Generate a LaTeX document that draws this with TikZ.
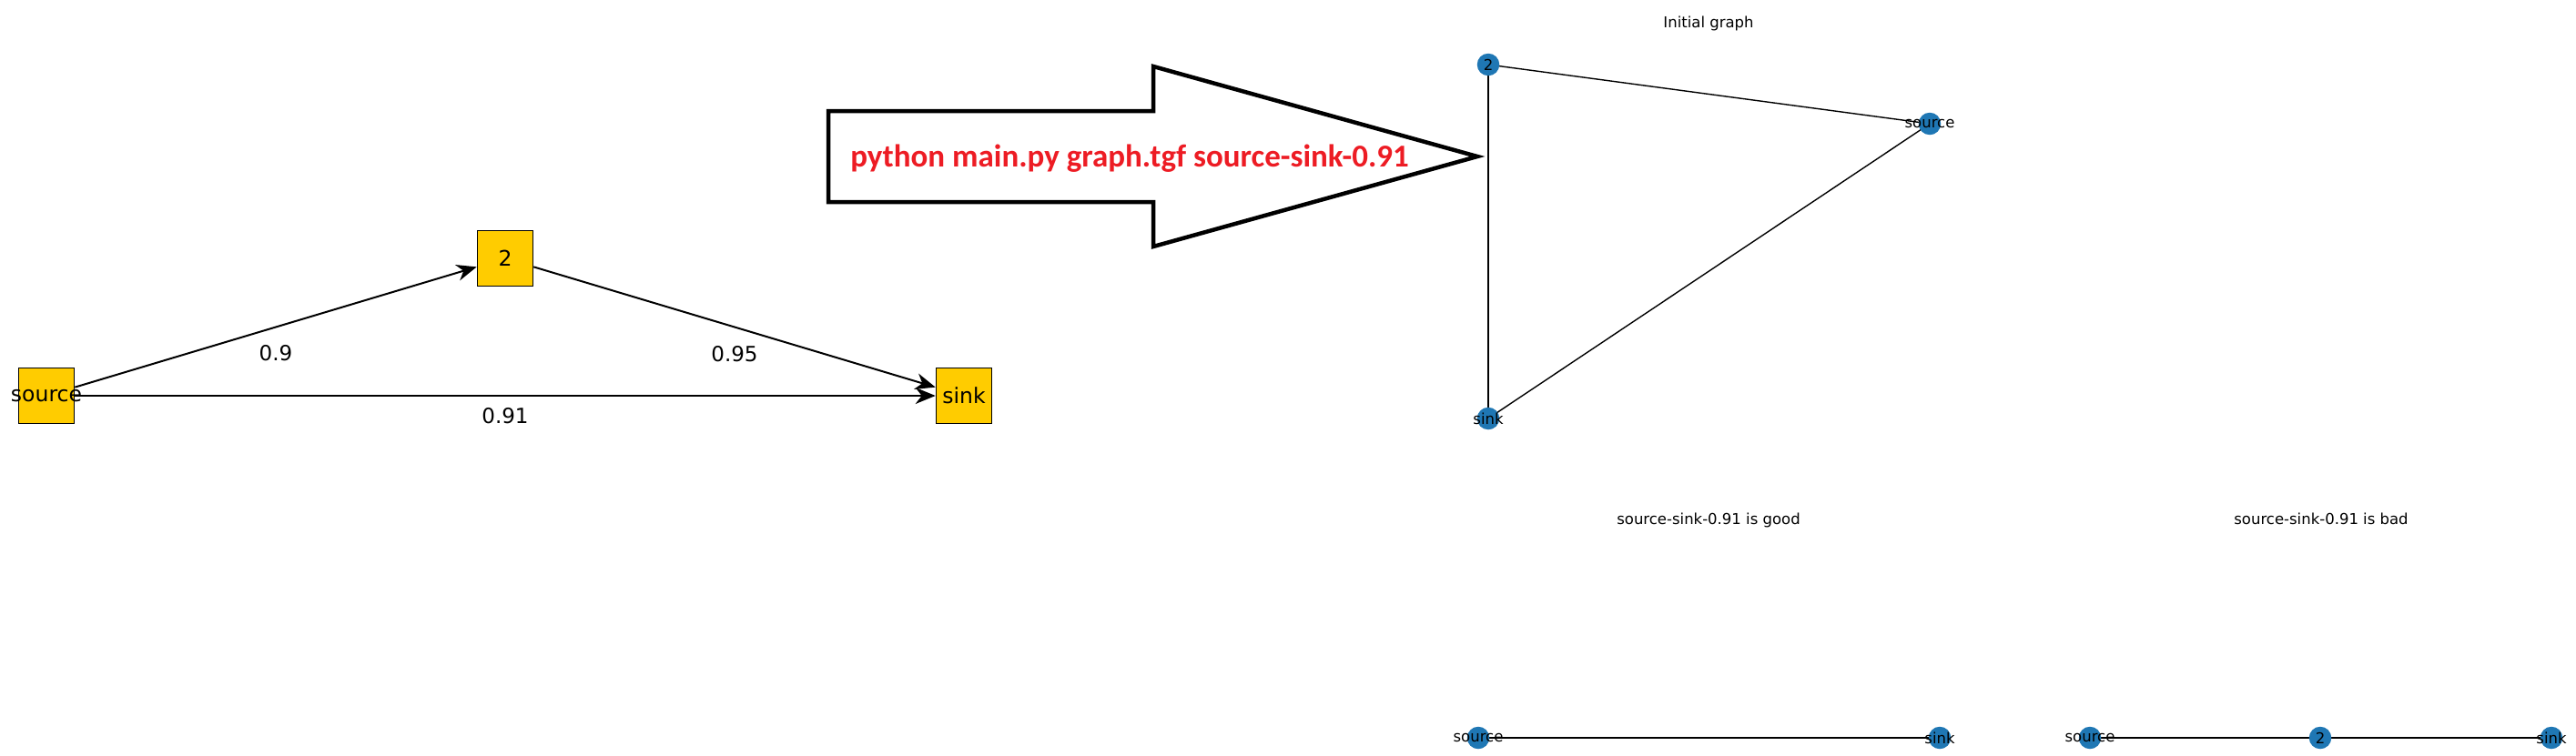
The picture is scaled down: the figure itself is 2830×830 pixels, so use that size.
\documentclass[tikz,border=0pt]{standalone}
\usepackage{fontspec}
\setmainfont{DejaVu Sans}
\newfontfamily\cmdfont{Carlito}
\usepackage{xcolor}
\usepackage{tikz}
\usetikzlibrary{arrows.meta,backgrounds}
\definecolor{boxyellow}{HTML}{FFCC00}
\definecolor{nxblue}{HTML}{1F77B4}
\definecolor{cmdred}{RGB}{237,28,36}

\begin{document}
\begin{tikzpicture}[x=0.5pt, y=-0.5pt,
    box/.style={rectangle, draw, line width=0.8pt, fill=boxyellow, minimum size=30.5pt, inner sep=0pt, font=\fontsize{11.75}{14}\selectfont},
    wlabel/.style={inner sep=0pt, font=\fontsize{11.5}{14}\selectfont},
    flow/.style={-{Stealth[length=11pt, width=9pt, inset=3.5pt]}, line width=1pt},
    nx/.style={circle, fill=nxblue, minimum size=12.25pt, inner sep=0pt, font=\fontsize{8.25}{10}\selectfont},
    nxedge/.style={line width=0.7pt},
    title/.style={anchor=base, inner sep=0pt, font=\fontsize{8.25}{10}\selectfont}]
            \useasboundingbox (0,0) rectangle (2830,830);

            % Nodes
            \node[box] (src) at (51,435) {\makebox[0pt]{source}};
            \node[box] (mid) at (555,284) {2};
            \node[box] (snk) at (1059,435) {sink};

            % Edges
            \draw[flow] (src) -- (mid) node[wlabel, midway, yshift=-14.5pt] {0.9};
            \draw[flow] (mid) -- (snk) node[wlabel, midway, yshift=-14.75pt] {0.95};
            \draw[flow] (src) -- (snk) node[wlabel, midway, yshift=-11pt] {0.91};

            % Block arrow
            \draw[line width=2.25pt, miter limit=20] (910,122) -- (1267,122) -- (1267,73) -- (1623,172)
                -- (1267,271) -- (1267,222) -- (910,222) -- cycle;
            \node[anchor=base, inner sep=0pt, text=cmdred, font=\cmdfont\bfseries\fontsize{17.5}{20}\selectfont]
                (cmd) at (1241,183) {python main.py graph.tgf source-sink-0.91};

            % Initial graph
            \node[title] (t1) at (1877,30) {Initial graph};
            \node[nx] (a2) at (1635,71) {2};
            \node[nx] (asrc) at (2120,136) {\makebox[0pt]{source}};
            \node[nx] (asnk) at (1635,460) {\makebox[0pt]{sink}};
            \begin{pgfonlayer}{background}
            \draw[nxedge] (a2.center) -- (asrc.center);
            \draw[nxedge] (a2.center) -- (asnk.center);
            \draw[nxedge] (asrc.center) -- (asnk.center);
            \end{pgfonlayer}

            % Good result
            \node[title] (t2) at (1877,576) {source-sink-0.91 is good};
            \node[nx] (gsrc) at (1624,811) {\makebox[0pt]{source}};
            \node[nx] (gsnk) at (2131,811) {\makebox[0pt]{sink}};
            \begin{pgfonlayer}{background}
            \draw[nxedge] (gsrc.center) -- (gsnk.center);
            \end{pgfonlayer}

            % Bad result
            \node[title] (t3) at (2550,576) {source-sink-0.91 is bad};
            \node[nx] (bsrc) at (2296,811) {\makebox[0pt]{source}};
            \node[nx] (b2) at (2549,811) {2};
            \node[nx] (bsnk) at (2803,811) {\makebox[0pt]{sink}};
            \begin{pgfonlayer}{background}
            \draw[nxedge] (bsrc.center) -- (b2.center);
            \draw[nxedge] (b2.center) -- (bsnk.center);
            \end{pgfonlayer}
        \end{tikzpicture}
\end{document}
